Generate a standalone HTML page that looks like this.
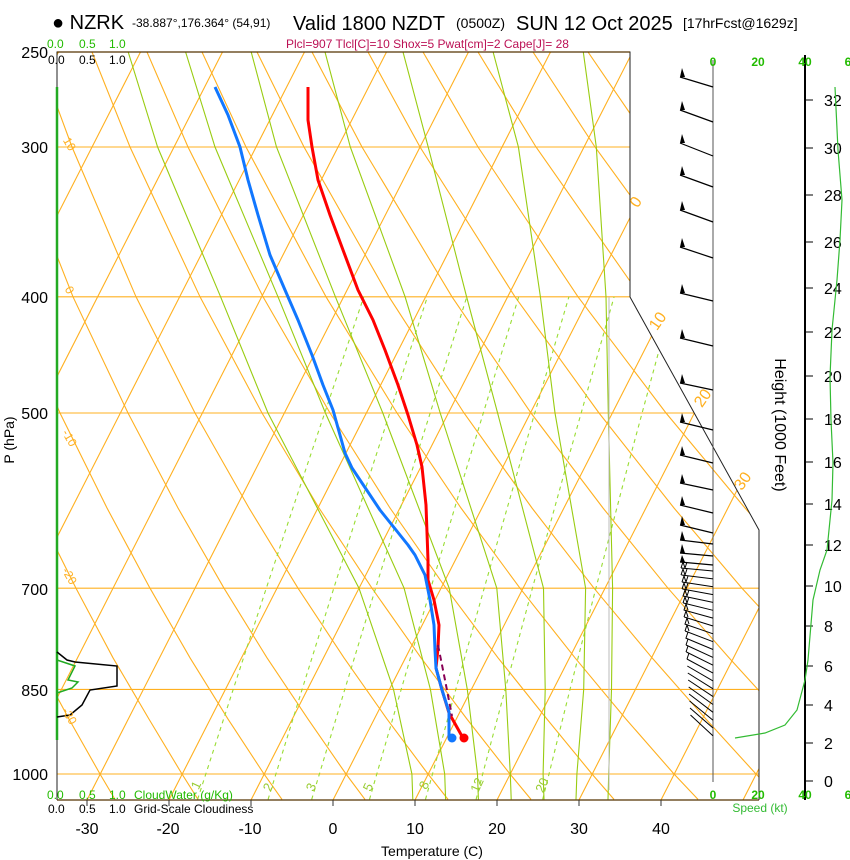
<!DOCTYPE html>
<html><head><meta charset="utf-8"><style>
html,body{margin:0;padding:0;background:#fff;}
svg{display:block;font-family:"Liberation Sans",Arial,sans-serif;}
</style></head><body>
<svg width="850" height="860" viewBox="0 0 850 860" xmlns="http://www.w3.org/2000/svg">
<defs><clipPath id="pc"><polygon points="57,52 630,52 630,297 759,530 759,800 57,800"/></clipPath></defs>
<rect width="850" height="860" fill="#fff"/>
<g clip-path="url(#pc)" fill="none" stroke-width="1.1">
<g stroke="#ffb020">
<line x1="57" y1="147" x2="760" y2="147"/><line x1="57" y1="296.8" x2="760" y2="296.8"/><line x1="57" y1="413" x2="760" y2="413"/><line x1="57" y1="588.2" x2="760" y2="588.2"/><line x1="57" y1="689.4" x2="760" y2="689.4"/><line x1="57" y1="774" x2="760" y2="774"/>
<line x1="-323" y1="800" x2="58.5" y2="52"/><line x1="-241" y1="800" x2="140.5" y2="52"/><line x1="-159" y1="800" x2="222.5" y2="52"/><line x1="-77" y1="800" x2="304.5" y2="52"/><line x1="5" y1="800" x2="386.5" y2="52"/><line x1="87" y1="800" x2="468.5" y2="52"/><line x1="169" y1="800" x2="550.5" y2="52"/><line x1="251" y1="800" x2="632.5" y2="52"/><line x1="333" y1="800" x2="714.5" y2="52"/><line x1="415" y1="800" x2="796.5" y2="52"/><line x1="497" y1="800" x2="878.5" y2="52"/><line x1="579" y1="800" x2="960.5" y2="52"/><line x1="661" y1="800" x2="1042.5" y2="52"/><line x1="743" y1="800" x2="1124.5" y2="52"/>
<polyline points="32,799.4 18,774 -11,719.1"/>
<polyline points="115,799.4 100,774 69,719.1 36,657.8 2,588.2 -35,508"/>
<polyline points="198,799.4 182,774 149,719.1 113,657.8 76,588.2 36,508 -7,413"/>
<polyline points="282,799.4 264,774 228,719.1 190,657.8 150,588.2 107,508 60,413 10,296.8"/>
<polyline points="365,799.4 346,774 308,719.1 267,657.8 224,588.2 178,508 128,413 73,296.8 14,147 -19,52"/>
<polyline points="448,799.4 428,774 387,719.1 344,657.8 298,588.2 249,508 195,413 136,296.8 72,147 37,52"/>
<polyline points="531,799.4 510,774 467,719.1 421,657.8 372,588.2 319,508 262,413 200,296.8 130,147 92,52"/>
<polyline points="614,799.4 592,774 547,719.1 498,657.8 446,588.2 390,508 330,413 263,296.8 188,147 147,52"/>
<polyline points="698,799.4 674,774 626,719.1 575,657.8 520,588.2 461,508 397,413 326,296.8 246,147 202,52"/>
<polyline points="781,799.4 756,774 706,719.1 652,657.8 594,588.2 532,508 464,413 389,296.8 304,147 257,52"/>
<polyline points="864,799.4 838,774 785,719.1 729,657.8 668,588.2 603,508 531,413 452,296.8 362,147 312,52"/>
<polyline points="947,799.4 920,774 865,719.1 806,657.8 742,588.2 674,508 599,413 515,296.8 420,147 368,52"/>
<polyline points="1002,774 944,719.1 882,657.8 816,588.2 745,508 666,413 578,296.8 478,147 423,52"/>
<polyline points="1084,774 1024,719.1 959,657.8 890,588.2 816,508 733,413 641,296.8 536,147 478,52"/>
<polyline points="1166,774 1103,719.1 1036,657.8 964,588.2 887,508 801,413 704,296.8 595,147 533,52"/>
<polyline points="1248,774 1183,719.1 1113,657.8 1038,588.2 957,508 868,413 767,296.8 653,147 588,52"/>
<polyline points="1330,774 1263,719.1 1190,657.8 1112,588.2 1028,508 935,413 831,296.8 711,147 643,52"/>
</g>
<g stroke="#99dd33" stroke-dasharray="4,4">
<polyline points="197.6,799.4 205.8,774 233.2,689.4 266.3,588.2 308,462.7 363.8,296.8"/>
<polyline points="268.1,799.4 275.9,774 302.1,689.4 333.8,588.2 373.7,462.7 427.4,296.8"/>
<polyline points="311.7,799.4 319.4,774 344.8,689.4 375.6,588.2 414.5,462.7 466.8,296.8"/>
<polyline points="369.5,799.4 376.8,774 401.2,689.4 430.8,588.2 468.2,462.7 518.7,296.8"/>
<polyline points="425.5,799.4 432.5,774 455.8,689.4 484.2,588.2 520.2,462.7 568.9,296.8"/>
<polyline points="476.1,799.4 482.7,774 505.1,689.4 532.4,588.2 567.1,462.7 614.1,296.8"/>
<polyline points="542.7,799.4 549,774 570,689.4 595.9,588.2 628.7,462.7 673.5,296.8"/>
</g>
<g stroke="#99cc11">
<polyline points="412.8,799.4 411.9,774 393.5,689.4 359,588.2 268,413 220.6,296.8 157.6,147 128.2,52"/>
<polyline points="445.6,799.4 444.7,774 430.4,689.4 404.1,588.2 325.4,413 278,296.8 215,147 185.6,52"/>
<polyline points="478.4,799.4 477.5,774 467.3,689.4 449.2,588.2 382.8,413 335.4,296.8 276.5,147 251.2,52"/>
<polyline points="511.2,799.4 510.3,774 505.8,689.4 496.8,588.2 440.2,413 405.1,296.8 350.3,147 325,52"/>
<polyline points="544,799.4 543.1,774 545.2,689.4 543.5,588.2 497.6,413 466.6,296.8 428.2,147 403,52"/>
<polyline points="576,799.4 576.9,774 583.7,689.4 585.6,588.2 555,413 540.4,296.8 518.4,147 493.1,52"/>
<polyline points="608,799.4 608.7,774 611.5,689.4 612.6,588.2 608.3,413 606,296.8 596.3,147 583.3,52"/>
</g>
<line x1="609" y1="297" x2="609" y2="790" stroke="#bbbbbb" stroke-width="1"/>
</g>
<polyline points="57,800 57,52 630,52 630,297 759,530 759,800" fill="none" stroke="#222" stroke-width="1"/>
<line x1="57" y1="52" x2="630" y2="52" stroke="#553300" stroke-width="1.2"/>
<line x1="57" y1="800" x2="759" y2="800" stroke="#553300" stroke-width="1.2"/>
<line x1="57" y1="87" x2="57" y2="740" stroke="#22aa22" stroke-width="2.5"/>
<line x1="713" y1="60" x2="713" y2="782" stroke="#555" stroke-width="1"/>
<g stroke="#333" stroke-width="1">
<line x1="87" y1="800" x2="87" y2="806"/><line x1="169" y1="800" x2="169" y2="806"/><line x1="251" y1="800" x2="251" y2="806"/><line x1="333" y1="800" x2="333" y2="806"/><line x1="415" y1="800" x2="415" y2="806"/><line x1="497" y1="800" x2="497" y2="806"/><line x1="579" y1="800" x2="579" y2="806"/><line x1="661" y1="800" x2="661" y2="806"/>
</g>
<polyline points="308,87 308,120 312,147 318,180 330,215 343,250 358,290 373,320 385,350 398,385 408,415 417,445 422,467 426,505 428,560 428,580 434,600 439,625 438,648 436,668 442,690 449,713 463,738" fill="none" stroke="#ff0000" stroke-width="3" stroke-linejoin="round"/>
<polyline points="215,87 228,115 240,147 248,180 258,215 270,255 285,290 298,320 312,355 323,385 333,410 345,453 352,468 380,510 408,545 415,555 425,575 430,600 434,625 435,650 436,668 442,690 449,712 449,738" fill="none" stroke="#1177ff" stroke-width="3" stroke-linejoin="round"/>
<polyline points="438,645 445,680 452,716" fill="none" stroke="#880055" stroke-width="2" stroke-dasharray="6,4"/>
<circle cx="464" cy="738" r="4.5" fill="#ff0000"/>
<circle cx="452" cy="738" r="4.5" fill="#1177ff"/>
<polyline points="57,652 67,660 75,662 117,666 117,686 90,690 82,705 70,715 57,717" fill="none" stroke="#000" stroke-width="1.5"/>
<polyline points="57,660 75,666 68,680 78,682 72,688 57,693" fill="none" stroke="#22aa22" stroke-width="1.5"/>
<g stroke="#000" stroke-width="1.2">
<line x1="713" y1="87" x2="680" y2="77"/><line x1="713" y1="122" x2="680" y2="110"/><line x1="713" y1="156" x2="680" y2="143"/><line x1="713" y1="187" x2="680" y2="175"/><line x1="713" y1="222" x2="680" y2="210"/><line x1="713" y1="258" x2="680" y2="247"/><line x1="713" y1="301" x2="680" y2="293"/><line x1="713" y1="346" x2="680" y2="338"/><line x1="713" y1="390" x2="680" y2="383"/><line x1="713" y1="430" x2="680" y2="422"/><line x1="713" y1="463" x2="680" y2="455"/><line x1="713" y1="490" x2="680" y2="483"/><line x1="713" y1="513" x2="680" y2="505"/><line x1="713" y1="533" x2="680" y2="525"/><line x1="713" y1="544" x2="680" y2="540"/><line x1="713" y1="556" x2="680" y2="553"/><line x1="713" y1="565" x2="680" y2="562"/>
</g>
<g fill="#000">
<polygon points="680,77 685,77 682,68"/><polygon points="680,110 685,110 682,101"/><polygon points="680,143 685,143 682,134"/><polygon points="680,175 685,175 682,166"/><polygon points="680,210 685,210 682,201"/><polygon points="680,247 685,247 682,238"/><polygon points="680,293 685,293 682,284"/><polygon points="680,338 685,338 682,329"/><polygon points="680,383 685,383 682,374"/><polygon points="680,422 685,422 682,413"/><polygon points="680,455 685,455 682,446"/><polygon points="680,483 685,483 682,474"/><polygon points="680,505 685,505 682,496"/><polygon points="680,525 685,525 682,516"/><polygon points="680,540 685,540 682,531"/><polygon points="680,553 685,553 682,544"/><polygon points="680,562 685,562 682,555"/>
</g>
<g stroke="#000" stroke-width="1">
<line x1="713" y1="571" x2="681" y2="568"/><line x1="713" y1="578.9" x2="681.5" y2="575"/><line x1="713" y1="586.7" x2="681.9" y2="582"/><line x1="713" y1="594.6" x2="682.4" y2="589"/><line x1="713" y1="602.4" x2="682.8" y2="596"/><line x1="713" y1="610.3" x2="683.3" y2="603"/><line x1="713" y1="618.1" x2="683.7" y2="610"/><line x1="713" y1="626" x2="684.2" y2="617"/><line x1="713" y1="633.8" x2="684.6" y2="624"/><line x1="713" y1="641.7" x2="685.1" y2="631"/><line x1="713" y1="649.5" x2="685.5" y2="638"/><line x1="713" y1="657.4" x2="686" y2="645"/><line x1="713" y1="665.2" x2="686.4" y2="652"/><line x1="713" y1="673.1" x2="686.9" y2="659"/><line x1="713" y1="680.9" x2="687.3" y2="666"/><line x1="713" y1="688.8" x2="687.8" y2="673"/><line x1="713" y1="696.6" x2="688.2" y2="680"/><line x1="713" y1="704.5" x2="688.7" y2="687"/><line x1="713" y1="712.3" x2="689.1" y2="694"/><line x1="713" y1="720.2" x2="689.6" y2="701"/><line x1="713" y1="728" x2="690" y2="708"/><line x1="713" y1="735.9" x2="690.5" y2="715"/>
<polyline points="681,568 683,562 685,568 687,562" fill="none"/>
<polyline points="681,575 683,569 685,575 687,569" fill="none"/>
<polyline points="682,582 684,576 686,582 688,576" fill="none"/>
<polyline points="682,589 684,583 686,589 688,583" fill="none"/>
<polyline points="683,596 685,590 687,596 689,590" fill="none"/>
<polyline points="683,603 685,597 687,603 689,597" fill="none"/>
<polyline points="684,610 686,604 688,610" fill="none"/>
<polyline points="684,617 686,611 688,617" fill="none"/>
<polyline points="685,624 687,618 689,624" fill="none"/>
<polyline points="685,631 687,625 689,631" fill="none"/>
<polyline points="686,638 688,632" fill="none"/>
<polyline points="686,645 688,639" fill="none"/>
<polyline points="686,652 688,646" fill="none"/>
<polyline points="687,659 689,653" fill="none"/>
</g>
<line x1="805" y1="55" x2="805" y2="800" stroke="#000" stroke-width="2"/>
<g stroke="#000" stroke-width="1">
<line x1="805" y1="781" x2="813" y2="781"/><line x1="805" y1="743" x2="813" y2="743"/><line x1="805" y1="705" x2="813" y2="705"/><line x1="805" y1="666" x2="813" y2="666"/><line x1="805" y1="626" x2="813" y2="626"/><line x1="805" y1="586" x2="813" y2="586"/><line x1="805" y1="545" x2="813" y2="545"/><line x1="805" y1="504" x2="813" y2="504"/><line x1="805" y1="462" x2="813" y2="462"/><line x1="805" y1="419" x2="813" y2="419"/><line x1="805" y1="376" x2="813" y2="376"/><line x1="805" y1="332" x2="813" y2="332"/><line x1="805" y1="288" x2="813" y2="288"/><line x1="805" y1="242" x2="813" y2="242"/><line x1="805" y1="195" x2="813" y2="195"/><line x1="805" y1="148" x2="813" y2="148"/><line x1="805" y1="100" x2="813" y2="100"/>
</g>
<g font-size="16" fill="#000">
<text x="824" y="787">0</text><text x="824" y="749">2</text><text x="824" y="711">4</text><text x="824" y="672">6</text><text x="824" y="632">8</text><text x="824" y="592">10</text><text x="824" y="551">12</text><text x="824" y="510">14</text><text x="824" y="468">16</text><text x="824" y="425">18</text><text x="824" y="382">20</text><text x="824" y="338">22</text><text x="824" y="294">24</text><text x="824" y="248">26</text><text x="824" y="201">28</text><text x="824" y="154">30</text><text x="824" y="106">32</text>
</g>
<polyline points="735,738 765,733 785,725 797,710 805,680 808,660 813,600 820,570 827,550 832,500 833,463 831,420 830,377 832,330 837,280 840,240 842,200 838,150 835,87" fill="none" stroke="#33bb33" stroke-width="1.2"/>
<g font-size="12" fill="#22bb00" font-weight="bold" text-anchor="middle">
<text x="713" y="66">0</text><text x="758" y="66">20</text><text x="805" y="66">40</text><text x="848" y="66">6</text>
<text x="713" y="799">0</text><text x="758" y="799">20</text><text x="805" y="799">40</text><text x="848" y="799">6</text>
</g>
<text x="760" y="812" font-size="12" fill="#33bb33" text-anchor="middle">Speed (kt)</text>
<text transform="translate(775,425) rotate(90)" font-size="16" text-anchor="middle">Height (1000 Feet)</text>
<text x="52" y="29" font-size="20">● NZRK</text>
<text x="132" y="27" font-size="12">-38.887°,176.364° (54,91)</text>
<text x="293" y="30" font-size="20">Valid 1800 NZDT</text>
<text x="456" y="28" font-size="14">(0500Z)</text>
<text x="516" y="30" font-size="20">SUN 12 Oct 2025</text>
<text x="683" y="28" font-size="14">[17hrFcst@1629z]</text>
<text x="286" y="48" font-size="12" fill="#bb1155">Plcl=907 Tlcl[C]=10 Shox=5 Pwat[cm]=2 Cape[J]= 28</text>
<g font-size="12">
<text x="47" y="48" fill="#22bb00">0.0</text><text x="79" y="48" fill="#22bb00">0.5</text><text x="109" y="48" fill="#22bb00">1.0</text>
<text x="48" y="64">0.0</text><text x="79" y="64">0.5</text><text x="109" y="64">1.0</text>
<text x="47" y="799" fill="#22bb00">0.0</text><text x="79" y="799" fill="#22bb00">0.5</text><text x="109" y="799" fill="#22bb00">1.0</text><text x="134" y="799" fill="#22bb00">CloudWater (g/Kg)</text>
<text x="48" y="813">0.0</text><text x="79" y="813">0.5</text><text x="109" y="813">1.0</text><text x="134" y="813">Grid-Scale Cloudiness</text>
</g>
<g font-size="16" text-anchor="end">
<text x="48" y="58">250</text><text x="48" y="153">300</text><text x="48" y="303">400</text><text x="48" y="419">500</text><text x="48" y="595">700</text><text x="48" y="696">850</text><text x="48" y="780">1000</text>
</g>
<text transform="translate(14,440) rotate(-90)" font-size="14" text-anchor="middle">P (hPa)</text>
<g font-size="16" text-anchor="middle">
<text x="87" y="834">-30</text><text x="168" y="834">-20</text><text x="250" y="834">-10</text><text x="333" y="834">0</text><text x="415" y="834">10</text><text x="497" y="834">20</text><text x="579" y="834">30</text><text x="661" y="834">40</text>
</g>
<text x="432" y="856" font-size="14" text-anchor="middle">Temperature (C)</text>
<g font-size="16" fill="#ffb020" text-anchor="middle">
<text transform="translate(640,205) rotate(-55)">0</text>
<text transform="translate(662,324) rotate(-55)">10</text>
<text transform="translate(707,401) rotate(-55)">20</text>
<text transform="translate(747,484) rotate(-55)">30</text>
</g>
<g font-size="12" fill="#ffb020" text-anchor="middle">
<text transform="translate(66,146) rotate(60)">10</text>
<text transform="translate(66,292) rotate(60)">0</text>
<text transform="translate(66,440) rotate(60)">-10</text>
<text transform="translate(66,578) rotate(60)">-20</text>
<text transform="translate(66,718) rotate(60)">-30</text>
</g>
<g font-size="13" fill="#99cc33" text-anchor="middle">
<text transform="translate(200,787) rotate(-65)">1</text>
<text transform="translate(272,789) rotate(-65)">2</text>
<text transform="translate(315,789) rotate(-65)">3</text>
<text transform="translate(372,789) rotate(-65)">5</text>
<text transform="translate(428,787) rotate(-65)">8</text>
<text transform="translate(481,787) rotate(-65)">12</text>
<text transform="translate(546,787) rotate(-65)">20</text>
</g>
</svg>
</body></html>
